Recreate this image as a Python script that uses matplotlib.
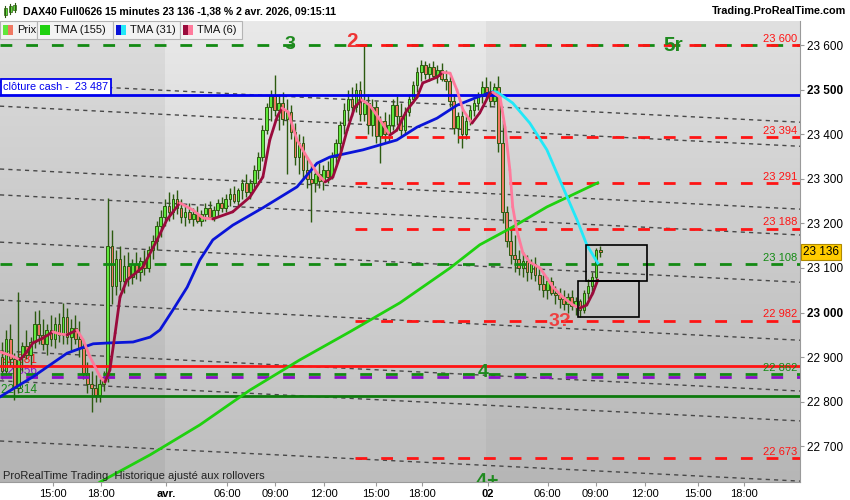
import numpy as np
import matplotlib.pyplot as plt
from matplotlib.patches import Rectangle, PathPatch
from matplotlib.collections import LineCollection
from matplotlib.colors import LinearSegmentedColormap
from matplotlib.transforms import blended_transform_factory, Affine2D, ScaledTranslation
from matplotlib.textpath import TextPath
from matplotlib.font_manager import FontProperties

plt.rcParams['font.family'] = ['Liberation Sans', 'DejaVu Sans']
plt.rcParams['lines.scale_dashes'] = False

# 15 minute candles, 31 mars 13:45 -> 2 avr 09:15
opens = [22900, 22870, 22940, 22895, 22830, 22900, 22925, 22905, 22935, 22975,
         22950, 22930, 22960, 22940, 22975, 22950, 22990, 22945, 22965, 22940,
         22920, 22865, 22840, 22830, 22815, 22840, 22855, 23150, 23060, 23120,
         23070, 23105, 23080, 23110, 23090, 23115, 23100, 23140, 23160, 23195,
         23215, 23240, 23225, 23255, 23235, 23215, 23225, 23210, 23220, 23205,
         23220, 23235, 23215, 23230, 23245, 23235, 23255, 23265, 23250, 23275,
         23290, 23270, 23290, 23320, 23350, 23410, 23460, 23485, 23455, 23470,
         23435, 23450, 23405, 23350, 23380, 23320, 23300, 23290, 23310, 23295,
         23320, 23305, 23350, 23380, 23420, 23455, 23480, 23460, 23500, 23445,
         23470, 23420, 23460, 23395, 23430, 23400, 23420, 23465, 23440, 23410,
         23450, 23480, 23510, 23540, 23555, 23535, 23550, 23530, 23545, 23525,
         23520, 23475, 23415, 23440, 23400, 23430, 23455, 23470, 23485, 23505,
         23495, 23475, 23505, 23380, 23225, 23160, 23130, 23120, 23100, 23115,
         23090, 23110, 23085, 23065, 23050, 23070, 23045, 23040, 23030, 23020,
         23035, 23015, 23025, 23005, 23045, 23060, 23080, 23140]
highs = [22935, 22960, 22975, 22910, 23046, 22935, 22960, 22945, 23004, 23005,
         22985, 22975, 22995, 22990, 23000, 23022, 23010, 22985, 22995, 22980,
         22935, 22890, 22870, 22860, 22850, 22870, 23257, 23185, 23140, 23150,
         23130, 23135, 23120, 23135, 23125, 23140, 23150, 23175, 23205, 23230,
         23255, 23270, 23265, 23275, 23255, 23240, 23245, 23235, 23240, 23230,
         23245, 23250, 23240, 23255, 23260, 23265, 23280, 23285, 23280, 23300,
         23310, 23300, 23330, 23360, 23420, 23470, 23500, 23533, 23490, 23495,
         23480, 23465, 23425, 23400, 23395, 23350, 23330, 23320, 23335, 23330,
         23340, 23360, 23390, 23430, 23470, 23500, 23505, 23515, 23520, 23600,
         23490, 23480, 23475, 23440, 23450, 23445, 23480, 23485, 23470, 23460,
         23490, 23520, 23550, 23566, 23565, 23560, 23565, 23555, 23560, 23545,
         23530, 23490, 23450, 23455, 23440, 23465, 23480, 23495, 23520, 23528,
         23520, 23515, 23530, 23432, 23240, 23190, 23175, 23140, 23135, 23130,
         23120, 23125, 23100, 23085, 23080, 23080, 23060, 23055, 23050, 23045,
         23050, 23035, 23030, 23050, 23075, 23090, 23145, 23150]
lows = [22850, 22860, 22880, 22805, 22820, 22870, 22895, 22880, 22920, 22930,
        22915, 22905, 22925, 22920, 22935, 22930, 22930, 22915, 22930, 22900,
        22850, 22820, 22777, 22800, 22800, 22825, 22845, 23020, 23040, 23050,
        23045, 23060, 23065, 23075, 23070, 23085, 23090, 23120, 23140, 23170,
        23195, 23205, 23210, 23220, 23200, 23195, 23200, 23195, 23200, 23195,
        23205, 23210, 23205, 23215, 23225, 23225, 23240, 23245, 23240, 23255,
        23260, 23255, 23280, 23300, 23340, 23400, 23430, 23440, 23410, 23420,
        23310, 23390, 23330, 23310, 23300, 23280, 23203, 23270, 23280, 23275,
        23290, 23300, 23330, 23360, 23400, 23430, 23440, 23450, 23430, 23430,
        23400, 23395, 23380, 23335, 23380, 23385, 23410, 23420, 23395, 23400,
        23440, 23470, 23495, 23520, 23525, 23520, 23525, 23515, 23520, 23500,
        23460, 23400, 23380, 23369, 23390, 23420, 23440, 23455, 23470, 23480,
        23460, 23465, 23360, 23200, 23147, 23110, 23090, 23085, 23080, 23070,
        23075, 23070, 23050, 23035, 23030, 23040, 23020, 23010, 23005, 23000,
        23005, 22995, 22990, 23000, 23030, 23040, 23065, 23125]
closes = [22870, 22940, 22895, 22830, 22900, 22925, 22905, 22935, 22975, 22950,
          22930, 22960, 22940, 22975, 22950, 22990, 22945, 22965, 22940, 22920,
          22865, 22840, 22830, 22815, 22840, 22855, 23150, 23060, 23120, 23070,
          23105, 23080, 23110, 23090, 23115, 23100, 23140, 23160, 23195, 23215,
          23240, 23225, 23255, 23235, 23215, 23225, 23210, 23220, 23205, 23220,
          23235, 23215, 23230, 23245, 23235, 23255, 23265, 23250, 23275, 23290,
          23270, 23290, 23320, 23350, 23410, 23460, 23485, 23455, 23470, 23435,
          23450, 23405, 23350, 23380, 23320, 23300, 23290, 23310, 23295, 23320,
          23305, 23350, 23380, 23420, 23455, 23480, 23460, 23500, 23445, 23470,
          23420, 23460, 23395, 23430, 23400, 23420, 23465, 23440, 23410, 23450,
          23480, 23510, 23540, 23555, 23535, 23550, 23530, 23545, 23525, 23520,
          23475, 23415, 23440, 23400, 23430, 23455, 23470, 23485, 23505, 23495,
          23475, 23505, 23380, 23225, 23160, 23130, 23120, 23100, 23115, 23090,
          23110, 23085, 23065, 23050, 23070, 23045, 23040, 23030, 23020, 23035,
          23015, 23025, 23005, 23045, 23060, 23080, 23140, 23136]

# moving averages (bar position, price)
tma6_x = [-0.5, 2.4, 4.4, 6.1, 7.6, 10.1, 12.5, 14.2, 16.0, 18.4, 19.9, 21.6, 24.1,
          25.3, 26.5, 27.8, 29.0, 30.7, 32.2, 34.6, 38.1, 40.5, 43.7, 46.9, 49.4,
          51.8, 56.7, 60.9, 64.1, 65.8, 67.6, 68.8, 70.3, 72.5, 74.9, 77.4, 79.4,
          81.3, 83.0, 84.8, 86.7, 88.4, 90.4, 92.9, 95.3, 97.0, 99.5, 102.0, 103.4,
          106.9, 108.3, 110.1, 111.8, 113.3, 115.5, 117.4, 119.9, 120.6, 122.4,
          123.6, 124.8, 125.5, 126.5, 128.0, 129.7, 132.2, 135.4, 137.8, 140.3,
          142.0, 143.7, 145.2, 146.4]
tma6_y = [22912, 22903, 22894, 22912, 22932, 22943, 22957, 22952, 22950, 22961, 22939, 22901, 22856,
          22844, 22871, 22954, 23035, 23073, 23084, 23102, 23163, 23208, 23246, 23230, 23212,
          23210, 23226, 23259, 23304, 23387, 23439, 23459, 23450, 23387, 23349, 23313, 23293,
          23304, 23349, 23409, 23461, 23477, 23465, 23432, 23398, 23409, 23454, 23483, 23515,
          23528, 23539, 23537, 23499, 23454, 23425, 23448, 23492, 23494, 23483,
          23416, 23320, 23237, 23185, 23134, 23113, 23100, 23057, 23035, 23017,
          23010, 23017, 23044, 23073]
tma31_x = [-0.5, 7.6, 16.0, 22.4, 26.5, 32.2, 36.4, 38.8, 42.0, 45.5, 48.6, 51.8, 56.7,
           64.1, 72.5, 77.4, 80.6, 88.7, 97.0, 102.0, 106.9, 111.8, 116.7, 120.6]
tma31_y = [22811, 22856, 22909, 22930, 22932, 22934, 22945, 22961, 23006, 23057, 23118, 23163, 23196,
           23235, 23282, 23335, 23349, 23365, 23387, 23416, 23436, 23465, 23483, 23495]
tma31_proj_x = [120.6, 121.6, 125.5, 129.7, 133.9, 137.8, 141.3, 143.7, 146.4]
tma31_proj_y = [23495, 23495, 23470, 23425, 23365, 23282, 23208, 23152, 23111]
tma155_x = [20.0, 24.1, 36.4, 48.6, 60.9, 73.2, 85.5, 97.8, 110.1, 117.4, 125.5, 133.9, 146.4]
tma155_y = [22595, 22620, 22681, 22748, 22826, 22894, 22957, 23022, 23100, 23152, 23192, 23237, 23291]

# dotted channel lines: price at left edge, price at right edge
trend_left = [23517, 23463, 23322, 23264, 23158, 23028, 22914, 22847, 22712]
trend_right = [23427, 23373, 23232, 23174, 23068, 22938, 22824, 22757, 22622]

red_levels = [23600, 23394, 23291, 23188, 22982, 22673]
green_levels = [23600, 23108, 22862]
purple_level = 22856
red_solid = 22881
green_solid = 22814
cash_close = 23487
last_price = 23136

right_labels = [(23600, '23 600', 'r'), (23394, '23 394', 'r'), (23291, '23 291', 'r'),
                (23188, '23 188', 'r'), (23108, '23 108', 'g'), (22982, '22 982', 'r'),
                (22862, '22 862', 'g'), (22673, '22 673', 'r')]

x_tick_pos = [12.5, 24.3, 40.3, 55.3, 67.1, 79.1, 91.9, 103.2, 119.4, 134.1, 145.9, 158.0, 171.0, 182.3]
x_tick_lab = ['15:00', '18:00', 'avr.', '06:00', '09:00', '12:00', '15:00', '18:00', '02',
              '06:00', '09:00', '12:00', '15:00', '18:00']

XMIN, XMAX = -0.5, 196.1
YMIN, YMAX = 22620, 23654
RED, GREEN, PURPLE, BLUE = '#ff1414', '#138a13', '#8a10c8', '#0000ee'

fig = plt.figure(figsize=(8.5, 5), dpi=100)
ax = fig.add_axes([0, 18 / 500, 800 / 850, 461 / 500])
ax.set_xlim(XMIN, XMAX)
ax.set_ylim(YMIN, YMAX)

# background gradient + day shading
cmap = LinearSegmentedColormap.from_list('bg', ['#bdbdbd', '#e9e9e9'])
grad = np.linspace(0, 1, 256).reshape(-1, 1)
ax.imshow(grad, extent=[XMIN, XMAX, YMIN, YMAX], origin='lower', aspect='auto', cmap=cmap, zorder=0)
ax.axvspan(XMIN, 40.0, color='black', alpha=0.05, lw=0, zorder=0.5)
ax.axvspan(118.9, XMAX, color='black', alpha=0.035, lw=0, zorder=0.5)

# dotted channel
for s, e in zip(trend_left, trend_right):
    ax.plot([XMIN, XMAX], [s, e], color='#484848', lw=1, dashes=(3, 3), zorder=1)

# level labels on the left (behind candles)
ax.text(-0.3, red_solid, '22 881', color=RED, fontsize=8.5, va='bottom', zorder=1.5)
ax.text(-0.3, purple_level, '22 856', color=PURPLE, fontsize=8.5, va='bottom', zorder=1.5)
ax.text(-0.3, green_solid, '22 814', color=GREEN, fontsize=8.5, va='bottom', zorder=1.5)

# candles
up_fill, dn_fill, edge = '#5fe83c', '#f07862', '#2c5a10'
for i in range(len(closes)):
    o, h, l, c = opens[i], highs[i], lows[i], closes[i]
    ax.vlines(i, l, h, color=edge, lw=1, zorder=3)
    ax.add_patch(Rectangle((i - 0.33, min(o, c)), 0.66, max(abs(c - o), 1.5),
                           facecolor=up_fill if c >= o else dn_fill,
                           edgecolor=edge, lw=0.7, zorder=4))

# horizontal levels
for p in green_levels:
    ax.plot([XMIN, XMAX], [p, p], color=GREEN, lw=2, dashes=(8.5, 10), zorder=5)
ax.plot([XMIN, XMAX], [purple_level] * 2, color=PURPLE, lw=2, dashes=(8.5, 10), zorder=5)
for p in red_levels:
    ax.plot([86.7, XMAX], [p, p], color=RED, lw=2, dashes=(8.5, 10), zorder=5)
ax.axhline(red_solid, color=RED, lw=2, zorder=5)
ax.axhline(green_solid, color='#0e7a0e', lw=2, zorder=5)
ax.axhline(cash_close, color=BLUE, lw=2, zorder=5)

for p, t, c in right_labels:
    ax.text(195.4, p + 3, t, ha='right', va='bottom', fontsize=8,
            color=RED if c == 'r' else GREEN, zorder=5)

ax.text(0.3, 23506, 'clôture cash -  23 487', color=BLUE, fontsize=7.8, va='center', ha='left',
        zorder=7, bbox=dict(boxstyle='square,pad=0.25', fc='white', ec=BLUE, lw=1.3))

# moving averages
ax.plot(tma155_x, tma155_y, color='#1fd10f', lw=2, zorder=6)
ax.plot(tma31_x, tma31_y, color='#0a14d8', lw=2, zorder=6)
ax.plot(tma31_proj_x, tma31_proj_y, color='#22e8f8', lw=2, zorder=6)
tx, ty = np.array(tma6_x), np.array(tma6_y)
segs = np.stack([np.column_stack([tx[:-1], ty[:-1]]), np.column_stack([tx[1:], ty[1:]])], axis=1)
cols = ['#9a0b3c' if b >= a else '#ff7a9c' for a, b in zip(ty[:-1], ty[1:])]
ax.add_collection(LineCollection(segs, colors=cols, lw=2, zorder=6, capstyle='round'))

# drawn boxes
ax.add_patch(Rectangle((143.5, 23071), 15, 81, fill=False, ec='black', lw=1.2, zorder=7))
ax.add_patch(Rectangle((141.5, 22990), 15, 81, fill=False, ec='black', lw=1.2, zorder=7))

# wave labels
ax.text(70.8, 23602, '3', color='#1f8a1f', fontsize=14, fontweight='bold', ha='center', va='center', zorder=8)
ax.text(86.0, 23609, '2', color='#ee3434', fontsize=15, fontweight='bold', ha='center', va='center', zorder=8)
ax.text(164.9, 23600, '5r', color='#1f8a1f', fontsize=15, fontweight='bold', ha='center', va='center', zorder=8)
ax.text(137.1, 22979, '3?', color='#ee4040', fontsize=14, fontweight='bold', ha='center', va='center', zorder=8)
ax.text(118.2, 22865, '4', color='#1f8a1f', fontsize=14, fontweight='bold', ha='center', va='center', zorder=8)

# "4+" sits below the bottom edge and is cut by it: draw as a path so it gets clipped
tp = TextPath((0, 0), '4+', size=14, prop=FontProperties(family='Liberation Sans', weight='bold'))
bb = tp.get_extents()
tr = (Affine2D().translate(-(bb.x0 + bb.x1) / 2, -bb.y1).scale(1 / 72) + fig.dpi_scale_trans
      + ScaledTranslation(119.2, 22640, ax.transData))
ax.add_patch(PathPatch(tp, transform=tr, fc='#1f8a1f', ec='none', zorder=8))

# axes styling
for s in ['top', 'left']:
    ax.spines[s].set_visible(False)
ax.spines['right'].set_color('#9a9a9a')
ax.spines['bottom'].set_color('#9a9a9a')
ax.yaxis.tick_right()
yt = np.arange(22700, 23601, 100)
ax.set_yticks(yt)
ax.set_yticklabels([f'{v // 1000} {v % 1000:03d}' for v in yt])
for lab in ax.get_yticklabels():
    if lab.get_text() in ('23 000', '23 500'):
        lab.set_fontweight('bold')
ax.set_xticks(x_tick_pos)
ax.set_xticklabels(x_tick_lab)
for lab in ax.get_xticklabels():
    if lab.get_text() in ('avr.', '02'):
        lab.set_fontweight('bold')
        lab.set_fontsize(9)
ax.tick_params(axis='y', length=3, pad=2, labelsize=8.5, colors='#9a9a9a', labelcolor='black')
ax.tick_params(axis='x', length=3, pad=2, labelsize=8, colors='#9a9a9a', labelcolor='black')

trans = blended_transform_factory(ax.transAxes, ax.transData)
ax.text(1.004, last_price, '23 136', transform=trans, ha='left', va='center', fontsize=8.5,
        color='black', zorder=9, clip_on=False,
        bbox=dict(boxstyle='square,pad=0.15', fc='#ffcc00', ec='#b08a00', lw=0.8))

fig.text(3 / 850, 1 - 476 / 500, 'ProRealTime Trading  Historique ajusté aux rollovers',
         fontsize=8, color='#222222', va='center', ha='left')

# header
fig.text(23 / 850, 1 - 11 / 500, 'DAX40 Full0626 15 minutes 23 136 -1,38 % 2 avr. 2026, 09:15:11',
         fontsize=7.6, fontweight='bold', va='center', ha='left')
fig.text(846 / 850, 1 - 11 / 500, 'Trading.ProRealTime.com', fontsize=7.8, fontweight='bold',
         va='center', ha='right')
for bx, by0, by1, bh0, bh1 in [(5, 8, 15, 6, 17), (10, 6, 12, 4, 14), (15, 5, 10, 3, 12)]:
    fig.add_artist(plt.Line2D([bx / 850] * 2, [1 - bh1 / 500, 1 - bh0 / 500], color='#2c5a10', lw=0.8))
    fig.add_artist(Rectangle((bx / 850 - 1.5 / 850, 1 - by1 / 500), 3 / 850, (by1 - by0) / 500,
                             transform=fig.transFigure, fc='#5fe83c', ec='#2c5a10', lw=0.5))

# legend strip
legend_boxes = [(0, 37, 'Prix', ['#5fe83c', '#f07862']),
                (37, 113, 'TMA (155)', ['#1fd10f', '#1fd10f']),
                (113, 180, 'TMA (31)', ['#0a14d8', '#22e8f8']),
                (180, 242, 'TMA (6)', ['#9a0b3c', '#ff7a9c'])]
for x0, x1, lab, cc in legend_boxes:
    fig.add_artist(Rectangle((x0 / 850, 1 - 39 / 500), (x1 - x0) / 850, 18 / 500,
                             transform=fig.transFigure, fc='#f3f3f3', ec='#b4b4b4', lw=0.8))
    fig.add_artist(Rectangle(((x0 + 3) / 850, 1 - 35 / 500), 5 / 850, 10 / 500,
                             transform=fig.transFigure, fc=cc[0], ec='none'))
    fig.add_artist(Rectangle(((x0 + 8) / 850, 1 - 35 / 500), 5 / 850, 10 / 500,
                             transform=fig.transFigure, fc=cc[1], ec='none'))
    fig.text((x0 + 17) / 850, 1 - 30 / 500, lab, fontsize=8, va='center', ha='left', color='#111111')

fig.savefig('out.png', dpi=100, facecolor='white')
